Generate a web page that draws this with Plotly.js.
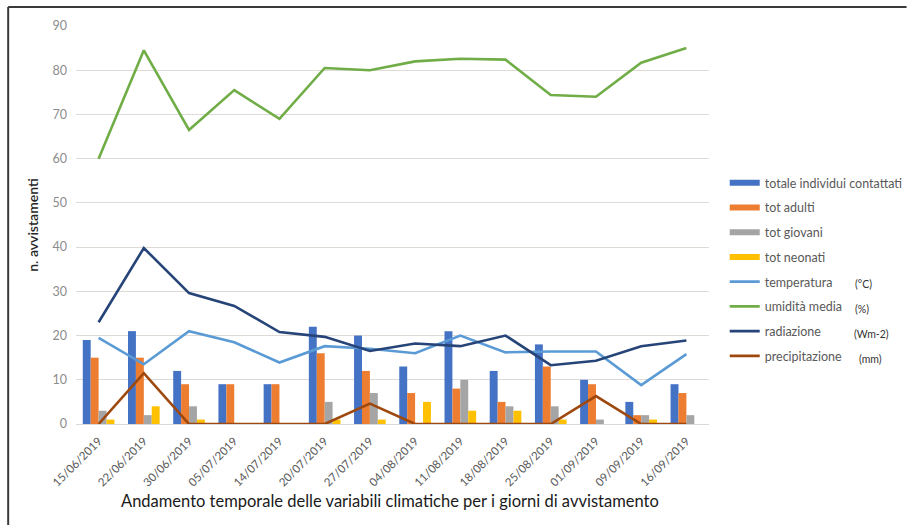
<!DOCTYPE html>
<html>
<head>
<meta charset="utf-8">
<script src="https://cdn.plot.ly/plotly-3.0.1.min.js"></script>
<style>
  html, body { margin: 0; padding: 0; background: #ffffff; }
  #chart { width: 920px; height: 525px; }
</style>
</head>
<body>
<div id="chart"></div>
<script>
// ---- data ----
const dates = ["15/06/2019","22/06/2019","30/06/2019","05/07/2019","14/07/2019","20/07/2019","27/07/2019","04/08/2019","11/08/2019","18/08/2019","25/08/2019","01/09/2019","09/09/2019","16/09/2019"];
const totaleIndividui = [19, 21, 12, 9, 9, 22, 20, 13, 21, 12, 18, 10, 5, 9];
const totAdulti       = [15, 15, 9, 9, 9, 16, 12, 7, 8, 5, 13, 9, 2, 7];
const totGiovani      = [3, 2, 4, 0, 0, 5, 7, 0, 10, 4, 4, 1, 2, 2];
const totNeonati      = [1, 4, 1, 0, 0, 1, 1, 5, 3, 3, 1, 0, 1, 0];
const temperatura     = [19.5, 13.5, 21, 18.5, 13.9, 17.6, 17, 16, 20, 16.2, 16.4, 16.4, 8.8, 15.8];
const umidita         = [60, 84.5, 66.5, 75.5, 69, 80.5, 80, 82, 82.6, 82.4, 74.4, 74, 81.7, 85];
const radiazione      = [23, 39.8, 29.6, 26.7, 20.8, 19.7, 16.5, 18.2, 17.6, 20, 13.3, 14.3, 17.6, 18.9];
const precipitazione  = [0, 11.5, 0, 0, 0, 0, 4.6, 0, 0, 0, 0, 6.3, 0, 0];

const barNames  = ["totale individui contattati", "tot adulti", "tot giovani", "tot neonati"];
const lineNames = ["temperatura", "umidità media", "radiazione", "precipitazione"];
const units     = ["(°C)", "(%)", "(Wm-2)", "(mm)"];

// ---- style ----
const barColors  = ["#4472C4", "#ED7D31", "#A5A5A5", "#FFC000"];
const lineColors = ["#5B9BD5", "#70AD47", "#264478", "#9E480E"];
const FONT = "Lato, 'Open Sans', sans-serif";

// pixel geometry of plot area
const L = 76, R = 720, T = 26, B = 424, W = 920, H = 525;
const px = x => (x - L) / (R - L);
const py = y => (B - y) / (B - T);

const barSeries = [totaleIndividui, totAdulti, totGiovani, totNeonati];
const lineSeries = [temperatura, umidita, radiazione, precipitazione];

const traces = [];
barSeries.forEach((vals, i) => {
  traces.push({
    type: "bar", x: dates, y: vals, name: barNames[i],
    marker: { color: barColors[i] }, showlegend: false,
    legendgroup: "b" + i, hoverinfo: "x+y+name"
  });
});
// legend-only entries for bars (Excel-style thick dash symbol)
barSeries.forEach((vals, i) => {
  traces.push({
    type: "scatter", mode: "lines", x: [null], y: [null], name: barNames[i],
    line: { color: barColors[i], width: 6 }, legendgroup: "b" + i, showlegend: true
  });
});
lineSeries.forEach((vals, i) => {
  traces.push({
    type: "scatter", mode: "lines", x: dates, y: vals, name: lineNames[i],
    line: { color: lineColors[i], width: 2.6 }, legendgroup: "l" + i
  });
});

const legendY = [183, 208, 233, 258, 283, 308, 333, 358];
const annotations = units.map((u, i) => ({
  xref: "paper", yref: "paper", x: px([866, 866, 865, 871][i]), y: py(legendY[4 + i] + 1),
  xanchor: "left", yanchor: "middle", text: u, showarrow: false,
  font: { family: FONT, size: 10.5, color: "#333333" }
}));
annotations.push({
  xref: "paper", yref: "paper", x: px(395), y: py(501), xanchor: "center", yanchor: "middle",
  text: "Andamento temporale delle variabili climatiche per i giorni di avvistamento",
  showarrow: false, font: { family: FONT, size: 16.5, color: "#1a1a1a" }
});

const layout = {
  width: W, height: H,
  margin: { l: L, r: W - R, t: T, b: H - B, pad: 0 },
  paper_bgcolor: "#ffffff", plot_bgcolor: "#ffffff",
  font: { family: FONT, color: "#595959" },
  barmode: "group", bargap: 0.3, bargroupgap: 0,
  xaxis: {
    type: "category", tickangle: -45, tickfont: { family: FONT, size: 11.5, color: "#595959" },
    showgrid: false, showline: true, linecolor: "#d9d9d9", linewidth: 1,
    ticks: "", zeroline: false, fixedrange: true, ticklabelstandoff: 5
  },
  yaxis: {
    range: [0, 90], dtick: 10, tickfont: { family: FONT, size: 12.5, color: "#8c8c8c" },
    gridcolor: "#dedad6", gridwidth: 1, zeroline: false, showline: false, ticks: "",
    ticklabelstandoff: 8,
    title: { text: "n. avvistamenti", standoff: 10, font: { family: FONT, size: 14, color: "#262626", weight: 600 } }
  },
  legend: {
    x: px(736), y: py(legendY[0] - 15), xanchor: "left", yanchor: "top",
    font: { family: FONT, size: 12.5, color: "#595959" },
    tracegroupgap: 5.5, itemwidth: 30, bgcolor: "rgba(0,0,0,0)", traceorder: "grouped"
  },
  annotations: annotations,
  shapes: [
    { type: "line", xref: "paper", yref: "paper", x0: px(7), x1: px(7), y0: py(7), y1: py(526), line: { color: "#3a3a3a", width: 2 } },
    { type: "line", xref: "paper", yref: "paper", x0: px(7), x1: px(921), y0: py(7), y1: py(7), line: { color: "#3a3a3a", width: 2 } }
  ],
  showlegend: true
};

Plotly.newPlot("chart", traces, layout, { displayModeBar: false, staticPlot: true });
</script>
</body>
</html>
